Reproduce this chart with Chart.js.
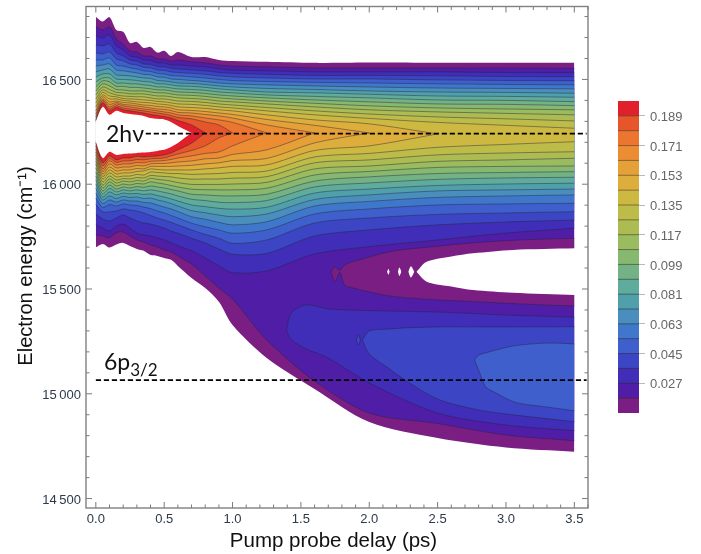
<!DOCTYPE html>
<html>
<head>
<meta charset="utf-8">
<script src="https://cdn.jsdelivr.net/npm/chart.js@4.4.0/dist/chart.umd.min.js"></script>
<style>
  body { margin: 0; background: #fff; }
  canvas { position: absolute; }
  .note { position: absolute; font-family: Lato, sans-serif; font-size: 23px; color: #111; line-height: 28px; white-space: nowrap; }
  .note sub { font-size: 17px; vertical-align: -6px; line-height: 0; }
</style>
</head>
<body>
<canvas id="mainChart" width="701" height="554" style="left:0;top:0"></canvas>
<canvas id="barChart" width="101" height="335" style="left:600px;top:90px"></canvas>
<div class="note" style="left:106px;top:119px">2hν</div>
<div class="note" style="left:104px;top:347px">6p<sub>3/2</sub></div>
<script>
// Sample delays (ps), tight at early times where the signal oscillates
const delays = [0, 0.05, 0.1, 0.15, 0.2, 0.25, 0.3, 0.35, 0.4, 0.45, 0.5, 0.55, 0.6, 0.7, 0.8, 0.9, 1.0, 1.25, 1.6, 2.0, 2.5, 3.0, 3.5];

// Contour levels and colours, lowest first
const levels = [0.009, 0.018, 0.027, 0.036, 0.045, 0.054, 0.063, 0.072, 0.081, 0.09, 0.099, 0.108, 0.117, 0.126, 0.135, 0.144, 0.153, 0.162, 0.171, 0.18, 0.189];
const levelColors = ['#7A1E84', '#4F1DA6', '#402DB8', '#3C45C4', '#3E5FCC', '#3F78CA', '#4A8EBE', '#50A0AC', '#60AC9C', '#72B285', '#86B870', '#9ABB5E', '#ACBC52', '#BDBC48', '#CDB942', '#DDAE3C', '#E6A038', '#EC8D34', '#EC7630', '#E5572A', '#E0202A'];

// Upper edge of each contour (cm-1), one row per level
const upper009 = [16798, 16776, 16797, 16736, 16727, 16674, 16679, 16650, 16655, 16628, 16637, 16612, 16631, 16607, 16607, 16593, 16588, 16584, 16579, 16581, 16580, 16580, 16580];
const upper018 = [16751, 16736, 16751, 16693, 16669, 16636, 16631, 16612, 16612, 16598, 16598, 16588, 16593, 16584, 16579, 16569, 16564, 16560, 16555, 16555, 16555, 16555, 16553];
const upper027 = [16708, 16698, 16713, 16660, 16641, 16612, 16607, 16593, 16591, 16579, 16579, 16569, 16569, 16564, 16560, 16550, 16545, 16541, 16536, 16536, 16536, 16533, 16532];
const upper036 = [16665, 16660, 16669, 16627, 16612, 16593, 16588, 16574, 16572, 16562, 16560, 16553, 16550, 16545, 16541, 16533, 16529, 16524, 16519, 16519, 16517, 16514, 16513];
const upper045 = [16627, 16622, 16631, 16598, 16588, 16574, 16569, 16557, 16555, 16545, 16543, 16536, 16533, 16529, 16524, 16517, 16512, 16507, 16502, 16502, 16498, 16495, 16494];
const upper054 = [16593, 16593, 16603, 16569, 16564, 16555, 16550, 16541, 16538, 16529, 16526, 16519, 16517, 16512, 16507, 16500, 16495, 16490, 16486, 16483, 16479, 16476, 16474];
const upper063 = [16564, 16569, 16574, 16545, 16541, 16536, 16531, 16524, 16522, 16512, 16510, 16502, 16500, 16495, 16490, 16483, 16479, 16474, 16469, 16464, 16459, 16457, 16455];
const upper072 = [16536, 16545, 16550, 16522, 16519, 16517, 16512, 16507, 16505, 16495, 16493, 16488, 16483, 16481, 16476, 16469, 16464, 16457, 16452, 16445, 16440, 16438, 16434];
const upper081 = [16512, 16526, 16526, 16502, 16500, 16498, 16495, 16490, 16488, 16479, 16479, 16474, 16469, 16467, 16462, 16455, 16450, 16440, 16436, 16429, 16421, 16419, 16415];
const upper090 = [16488, 16507, 16507, 16483, 16483, 16479, 16479, 16474, 16471, 16464, 16464, 16459, 16455, 16452, 16448, 16440, 16436, 16426, 16419, 16412, 16402, 16400, 16394];
const upper099 = [16464, 16493, 16488, 16467, 16467, 16462, 16462, 16459, 16455, 16450, 16450, 16445, 16440, 16438, 16433, 16426, 16421, 16412, 16402, 16393, 16383, 16381, 16375];
const upper108 = [16445, 16479, 16469, 16452, 16450, 16445, 16445, 16445, 16440, 16436, 16436, 16431, 16426, 16424, 16419, 16412, 16407, 16397, 16386, 16374, 16364, 16359, 16355];
const upper117 = [16426, 16464, 16452, 16438, 16436, 16431, 16431, 16431, 16426, 16421, 16421, 16417, 16412, 16409, 16405, 16397, 16393, 16383, 16369, 16355, 16345, 16338, 16331];
const upper126 = [16407, 16450, 16436, 16426, 16421, 16419, 16417, 16417, 16412, 16407, 16407, 16402, 16397, 16395, 16390, 16383, 16378, 16366, 16350, 16335, 16321, 16312, 16302];
const upper135 = [16388, 16438, 16421, 16417, 16409, 16407, 16405, 16402, 16400, 16395, 16393, 16388, 16383, 16381, 16376, 16369, 16364, 16350, 16331, 16314, 16295, 16281, 16267];
const upper144 = [16369, 16426, 16407, 16407, 16400, 16397, 16393, 16390, 16388, 16383, 16381, 16376, 16369, 16366, 16362, 16355, 16350, 16331, 16307, 16288, 16240];
const upper153 = [16350, 16417, 16393, 16397, 16390, 16388, 16383, 16378, 16376, 16371, 16369, 16364, 16355, 16352, 16347, 16340, 16333, 16309, 16281, 16245];
const upper162 = [16335, 16407, 16381, 16390, 16381, 16378, 16374, 16369, 16364, 16359, 16357, 16352, 16343, 16340, 16333, 16326, 16316, 16283, 16245];
const upper171 = [16321, 16400, 16369, 16383, 16374, 16369, 16364, 16359, 16355, 16350, 16345, 16340, 16331, 16326, 16316, 16307, 16295, 16245];
const upper180 = [16307, 16393, 16359, 16374, 16364, 16359, 16355, 16350, 16345, 16340, 16335, 16328, 16319, 16312, 16297, 16283, 16245];
const upper189 = [16300, 16386, 16350, 16366, 16355, 16350, 16345, 16340, 16333, 16328, 16323, 16316, 16304, 16283, 16245];

// Lower edge of each contour (cm-1); the two lowest wrap around the lower lobe
const lower009 = [15699, 15715, 15698, 15712, 15720, 15705, 15691, 15682, 15662, 15658, 15648, 15639, 15610, 15553, 15505, 15439, 15328, 15171, 15023, 14865, 14789, 14744, 14724];
const lower018 = [15758, 15753, 15744, 15769, 15772, 15753, 15734, 15724, 15710, 15701, 15686, 15677, 15658, 15619, 15562, 15505, 15452, 15257, 15061, 14908, 14858, 14803, 14776];
const lower027 = [15806, 15791, 15777, 15801, 15810, 15791, 15767, 15758, 15753, 15744, 15734, 15720, 15707, 15682, 15648, 15611, 15578, 15586, 15667, 15702, 15734, 15767, 15790];
const lower036 = [15858, 15834, 15825, 15839, 15853, 15839, 15825, 15815, 15810, 15801, 15791, 15777, 15767, 15742, 15720, 15691, 15666, 15670, 15753, 15782, 15806, 15820, 15829];
const lower045 = [15903, 15868, 15868, 15872, 15882, 15877, 15872, 15863, 15851, 15839, 15829, 15818, 15806, 15782, 15761, 15742, 15718, 15734, 15815, 15839, 15856, 15863, 15869];
const lower054 = [15934, 15889, 15903, 15896, 15906, 15901, 15899, 15891, 15884, 15872, 15863, 15851, 15839, 15814, 15797, 15782, 15766, 15782, 15858, 15882, 15901, 15906, 15909];
const lower063 = [15958, 15908, 15925, 15915, 15925, 15920, 15920, 15913, 15911, 15901, 15891, 15882, 15870, 15845, 15833, 15818, 15806, 15821, 15896, 15918, 15937, 15944, 15949];
const lower072 = [15980, 15925, 15944, 15932, 15942, 15937, 15939, 15932, 15934, 15925, 15918, 15908, 15896, 15874, 15864, 15853, 15845, 15858, 15927, 15949, 15968, 15973, 15977];
const lower081 = [16001, 15939, 15963, 15949, 15958, 15954, 15956, 15951, 15954, 15946, 15939, 15930, 15920, 15901, 15893, 15885, 15881, 15890, 15958, 15977, 15994, 16001, 16005];
const lower090 = [16020, 15954, 15980, 15963, 15973, 15968, 15973, 15968, 15973, 15968, 15961, 15954, 15944, 15928, 15922, 15914, 15912, 15922, 15987, 16006, 16023, 16030, 16033];
const lower099 = [16039, 15968, 15996, 15977, 15987, 15982, 15989, 15985, 15992, 15987, 15982, 15975, 15968, 15952, 15949, 15945, 15944, 15952, 16015, 16035, 16051, 16056, 16060];
const lower108 = [16058, 15982, 16011, 15992, 16001, 15996, 16004, 16001, 16011, 16006, 16001, 15994, 15987, 15976, 15974, 15973, 15973, 15981, 16044, 16061, 16080, 16085, 16087];
const lower117 = [16078, 15996, 16025, 16006, 16015, 16011, 16018, 16015, 16028, 16023, 16020, 16015, 16008, 15999, 15999, 15999, 16001, 16009, 16073, 16087, 16109, 16116, 16124];
const lower126 = [16097, 16011, 16039, 16020, 16027, 16025, 16032, 16030, 16042, 16039, 16037, 16035, 16030, 16024, 16025, 16025, 16029, 16036, 16102, 16116, 16140, 16149, 16155];
const lower135 = [16111, 16025, 16054, 16035, 16039, 16039, 16047, 16044, 16058, 16056, 16054, 16051, 16051, 16047, 16049, 16051, 16056, 16063, 16130, 16147, 16176, 16190, 16203];
const lower144 = [16125, 16037, 16068, 16049, 16054, 16054, 16061, 16063, 16073, 16070, 16068, 16068, 16068, 16068, 16073, 16078, 16085, 16092, 16161, 16183, 16240];
const lower153 = [16140, 16049, 16082, 16063, 16068, 16068, 16075, 16073, 16085, 16085, 16085, 16085, 16087, 16090, 16097, 16102, 16113, 16123, 16197, 16245];
const lower162 = [16154, 16061, 16097, 16078, 16082, 16082, 16090, 16087, 16097, 16099, 16099, 16102, 16106, 16111, 16121, 16125, 16142, 16164, 16245];
const lower171 = [16168, 16073, 16111, 16092, 16097, 16097, 16104, 16102, 16109, 16111, 16113, 16118, 16125, 16135, 16147, 16154, 16183, 16245];
const lower180 = [16183, 16087, 16123, 16104, 16111, 16111, 16118, 16116, 16121, 16123, 16125, 16135, 16144, 16161, 16183, 16221, 16245];
const lower189 = [16197, 16102, 16135, 16116, 16125, 16125, 16133, 16130, 16133, 16135, 16140, 16149, 16164, 16196, 16245];

// White core above the top level, open to the left edge of the data
const coreDelays = [-0.005, 0.05, 0.1, 0.15, 0.2, 0.25, 0.3, 0.35, 0.4, 0.45, 0.5, 0.55, 0.6, 0.7];
const coreUpper = [16292, 16369, 16331, 16350, 16340, 16335, 16331, 16326, 16316, 16312, 16309, 16297, 16278, 16245];
const coreLower = [16211, 16125, 16155, 16140, 16144, 16146, 16149, 16151, 16154, 16159, 16164, 16178, 16197, 16245];

// Notch between the two lobes
const notchDelays = [1.72, 1.75, 1.785, 1.82, 1.88, 2.15, 2.45, 2.76, 3.1, 3.5];
const notchUpper = [15582, 15606, 15588, 15615, 15630, 15678, 15701, 15720, 15734, 15742];
const notchLower = [15582, 15535, 15579, 15519, 15505, 15467, 15450, 15440, 15429, 15419];
const gapDelays = [2.345, 2.42, 2.6, 2.76, 3.05, 3.505];
const gapUpper = [15582, 15630, 15655, 15670, 15686, 15694];
const gapLower = [15582, 15535, 15512, 15495, 15482, 15471];

// Small white islands left of the gap
const islandDelays = [[2.13, 2.14, 2.15], [2.21, 2.22, 2.235], [2.285, 2.305, 2.33]];
const islandUpper = [[15582, 15596, 15582], [15582, 15602, 15582], [15582, 15609, 15582]];
const islandLower = [[15582, 15568, 15582], [15582, 15562, 15582], [15582, 15555, 15582]];

// Lower lobe contours
const lobe027Delays = [1.394, 1.43, 1.54, 1.7, 2.0, 2.5, 3.0, 3.5];
const lobe027Upper = [15304, 15386, 15424, 15405, 15397, 15390, 15376, 15365];
const lobe027Lower = [15304, 15257, 15214, 15171, 15052, 14908, 14851, 14824];
const lobe036Delays = [1.95, 2.0, 2.15, 2.25, 2.5, 2.8, 3.1, 3.5];
const lobe036Upper = [15257, 15300, 15309, 15314, 15319, 15319, 15319, 15320];
const lobe036Lower = [15257, 15190, 15118, 15071, 14975, 14923, 14896, 14867];
const speck036Delays = [1.905, 1.92, 1.935];
const speck036Upper = [15257, 15281, 15257];
const speck036Lower = [15257, 15233, 15257];
const lobe045Delays = [2.77, 2.8, 2.85, 2.9, 3.07, 3.3, 3.5];
const lobe045Upper = [15161, 15185, 15195, 15204, 15230, 15242, 15238];
const lobe045Lower = [15161, 15113, 15034, 15013, 14959, 14937, 14919];

// Dashed reference lines
const line2hvDelays = [0.365, 3.59];
const line2hvEnergy = [16241, 16241];
const line6pDelays = [0.0, 3.59];
const line6pEnergy = [15065, 15065];

// Axis ticks
const xMajorTicks = [0, 0.5, 1, 1.5, 2, 2.5, 3, 3.5];
const xMinorTicks = [0.1, 0.2, 0.3, 0.4, 0.6, 0.7, 0.8, 0.9, 1.1, 1.2, 1.3, 1.4, 1.6, 1.7, 1.8, 1.9, 2.1, 2.2, 2.3, 2.4, 2.6, 2.7, 2.8, 2.9, 3.1, 3.2, 3.3, 3.4, 3.6];
const yMajorTicks = [14500, 15000, 15500, 16000, 16500];
const yMinorTicks = [14600, 14700, 14800, 14900, 15100, 15200, 15300, 15400, 15600, 15700, 15800, 15900, 16100, 16200, 16300, 16400, 16600, 16700, 16800];
const barTicks = [0.027, 0.045, 0.063, 0.081, 0.099, 0.117, 0.135, 0.153, 0.171, 0.189];

const contourLine = 'rgba(35, 35, 60, 0.5)';
const datasets = [];

function curve(xs, ys) {
  return ys.map((y, i) => ({ x: xs[i], y: y }));
}

// A filled region is a pair of lines, the first filled down to the second
function addBand(xs, up, low, color, lineColor) {
  const common = { pointRadius: 0, tension: 0.3, borderWidth: lineColor ? 0.9 : 0, borderColor: lineColor || color, backgroundColor: color };
  datasets.push({ ...common, data: curve(xs, up), fill: '+1' });
  datasets.push({ ...common, data: curve(xs, low), fill: false });
}

const uppers = [upper009, upper018, upper027, upper036, upper045, upper054, upper063, upper072, upper081, upper090, upper099, upper108, upper117, upper126, upper135, upper144, upper153, upper162, upper171, upper180, upper189];
const lowers = [lower009, lower018, lower027, lower036, lower045, lower054, lower063, lower072, lower081, lower090, lower099, lower108, lower117, lower126, lower135, lower144, lower153, lower162, lower171, lower180, lower189];

// Paint from the lowest level upwards
addBand(delays, uppers[0], lowers[0], levelColors[0], null);
addBand(delays, uppers[1], lowers[1], levelColors[1], contourLine);
addBand(notchDelays, notchUpper, notchLower, levelColors[0], contourLine);
addBand(gapDelays, gapUpper, gapLower, '#ffffff', null);
islandDelays.forEach((xs, i) => addBand(xs, islandUpper[i], islandLower[i], '#ffffff', null));
addBand(lobe027Delays, lobe027Upper, lobe027Lower, levelColors[2], contourLine);
addBand(lobe036Delays, lobe036Upper, lobe036Lower, levelColors[3], contourLine);
addBand(speck036Delays, speck036Upper, speck036Lower, levelColors[3], contourLine);
addBand(lobe045Delays, lobe045Upper, lobe045Lower, levelColors[4], contourLine);
for (let i = 2; i < levels.length; i++) {
  addBand(delays, uppers[i], lowers[i], levelColors[i], contourLine);
}
addBand(coreDelays, coreUpper, coreLower, '#ffffff', null);

datasets.push({ data: curve(line2hvDelays, line2hvEnergy), borderColor: '#000', borderWidth: 1.8, borderDash: [5.2, 2.8], pointRadius: 0, fill: false });
datasets.push({ data: curve(line6pDelays, line6pEnergy), borderColor: '#000', borderWidth: 1.8, borderDash: [5.2, 2.8], pointRadius: 0, fill: false });

// Later datasets must paint on top
datasets.forEach((d, i) => { d.order = datasets.length - i; });

// Frame with inward ticks on all four sides, plus the axis titles
const framePlugin = {
  id: 'frame',
  afterDraw(chart) {
    const { ctx, chartArea: a, scales } = chart;
    ctx.save();
    ctx.strokeStyle = '#7a7a7a';
    ctx.lineWidth = 1;
    const tick = (x0, y0, x1, y1) => { ctx.beginPath(); ctx.moveTo(x0, y0); ctx.lineTo(x1, y1); ctx.stroke(); };
    const xTick = (v, len) => {
      const x = scales.x.getPixelForValue(v);
      tick(x, a.bottom, x, a.bottom - len);
      tick(x, a.top, x, a.top + len);
    };
    const yTick = (v, len) => {
      const y = scales.y.getPixelForValue(v);
      tick(a.left, y, a.left + len, y);
      tick(a.right, y, a.right - len, y);
    };
    xMajorTicks.forEach(v => xTick(v, 6));
    xMinorTicks.forEach(v => xTick(v, 3.5));
    yMajorTicks.forEach(v => yTick(v, 6));
    yMinorTicks.forEach(v => yTick(v, 3.5));
    ctx.strokeStyle = '#808080';
    ctx.lineWidth = 1.4;
    ctx.strokeRect(a.left, a.top, a.right - a.left, a.bottom - a.top);

    ctx.fillStyle = '#111';
    ctx.textAlign = 'center';
    ctx.font = "20.5px 'Liberation Sans', sans-serif";
    ctx.fillText('Pump probe delay (ps)', 333.5, 546.5);
    ctx.translate(32, 266);
    ctx.rotate(-Math.PI / 2);
    ctx.font = "20px 'Liberation Sans', sans-serif";
    ctx.fillText('Electron energy (cm\u207B\u00B9)', 0, 0);
    ctx.restore();
  }
};

new Chart(document.getElementById('mainChart').getContext('2d'), {
  type: 'line',
  data: { datasets: datasets },
  plugins: [framePlugin],
  options: {
    responsive: false,
    animation: false,
    layout: { padding: { left: 0, top: 6.5, right: 113, bottom: 0 } },
    plugins: { legend: { display: false }, tooltip: { enabled: false } },
    scales: {
      x: {
        type: 'linear',
        min: -0.072,
        max: 3.6,
        grid: { display: false, drawTicks: false },
        border: { display: false },
        afterFit: scale => { scale.height = 46; },
        afterBuildTicks: scale => { scale.ticks = xMajorTicks.map(v => ({ value: v })); },
        ticks: {
          maxRotation: 0,
          padding: 4,
          color: '#2d3a4a',
          font: { family: "'Liberation Sans', sans-serif", size: 13 },
          callback: v => v.toFixed(1)
        }
      },
      y: {
        type: 'linear',
        min: 14455,
        max: 16848,
        grid: { display: false, drawTicks: false },
        border: { display: false },
        afterFit: scale => { scale.width = 86; scale.paddingTop = 0; scale.paddingBottom = 0; },
        afterBuildTicks: scale => { scale.ticks = yMajorTicks.map(v => ({ value: v })); },
        ticks: {
          padding: 5,
          color: '#2d3a4a',
          // empty first line with a tiny line height nudges the text down to sit on its tick
          font: { family: "'Liberation Sans', sans-serif", size: 13, lineHeight: '3px' },
          callback: v => ['', String(v).slice(0, 2) + '\u2009' + String(v).slice(2)]
        }
      }
    }
  }
});

// Colour bar: one floating bar per band
const barBands = levels.map((lo, i) => ({
  data: [[lo, lo + 0.009]],
  backgroundColor: levelColors[i],
  grouped: false,
  barPercentage: 1,
  categoryPercentage: 1
}));

// Thin dark separators between the bar's bands
const barLinesPlugin = {
  id: 'barLines',
  afterDatasetsDraw(chart) {
    const { ctx, chartArea: a, scales } = chart;
    ctx.save();
    ctx.strokeStyle = 'rgba(50, 40, 40, 0.5)';
    ctx.lineWidth = 1;
    levels.slice(1).forEach(v => {
      const y = scales.y.getPixelForValue(v);
      ctx.beginPath();
      ctx.moveTo(a.left, y);
      ctx.lineTo(a.right, y);
      ctx.stroke();
    });
    ctx.restore();
  }
};

new Chart(document.getElementById('barChart').getContext('2d'), {
  type: 'bar',
  data: { labels: ['level'], datasets: barBands },
  plugins: [barLinesPlugin],
  options: {
    responsive: false,
    animation: false,
    layout: { padding: { left: 18, top: 11, right: 0, bottom: 12 } },
    plugins: { legend: { display: false }, tooltip: { enabled: false } },
    scales: {
      x: { display: false },
      y: {
        position: 'right',
        min: 0.009,
        max: 0.198,
        grid: { drawOnChartArea: false, drawTicks: true, tickLength: 6, color: '#bbbbbb' },
        border: { display: false },
        afterFit: scale => { scale.width = 62; scale.paddingTop = 0; scale.paddingBottom = 0; },
        afterBuildTicks: scale => { scale.ticks = barTicks.map(v => ({ value: v })); },
        ticks: {
          padding: 5,
          color: '#666666',
          font: { family: "'Liberation Sans', sans-serif", size: 13, lineHeight: '3px' },
          callback: v => ['', v.toFixed(3)]
        }
      }
    }
  }
});
</script>
</body>
</html>
